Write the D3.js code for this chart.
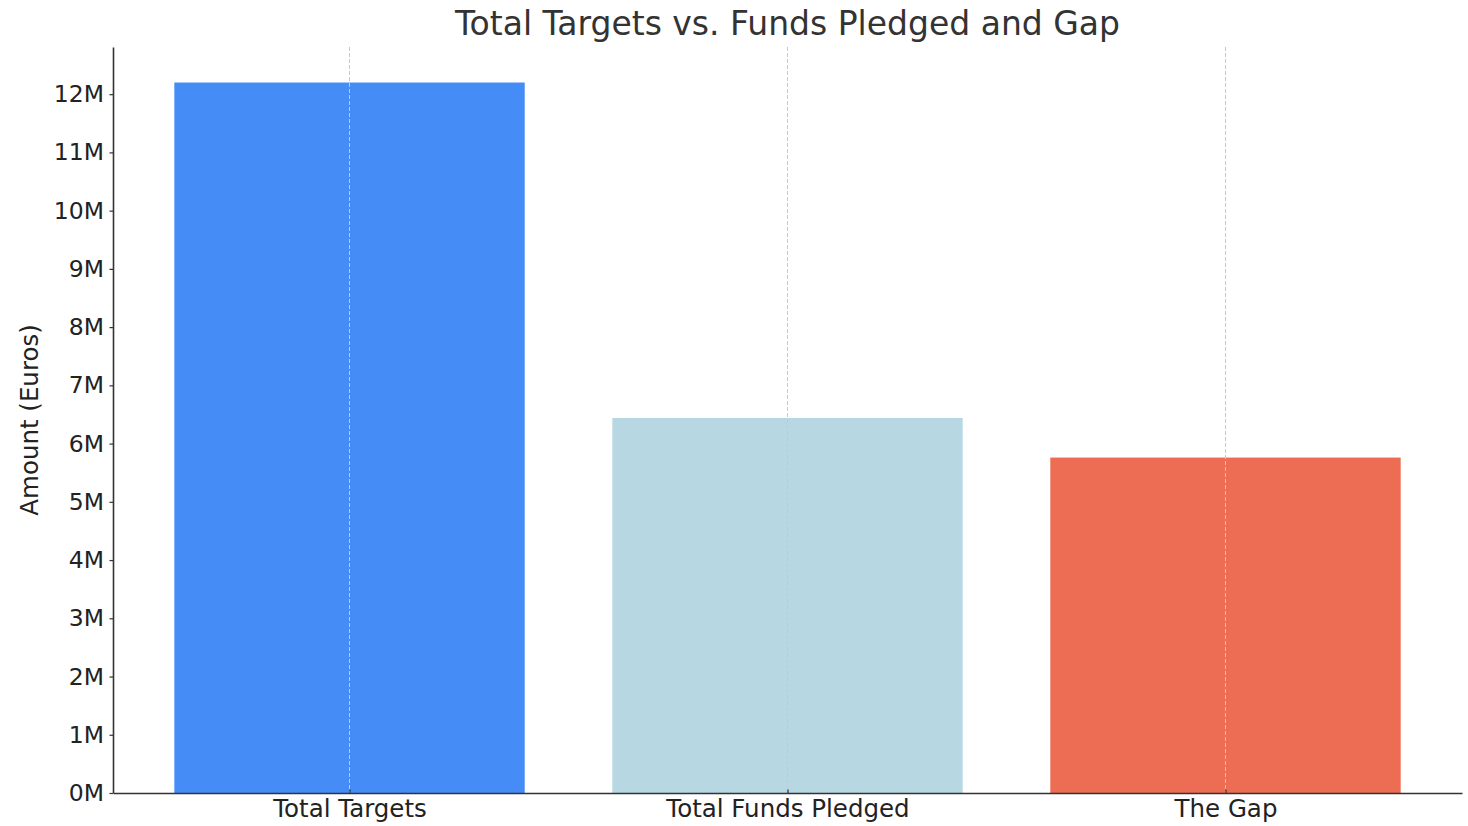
<!DOCTYPE html>
<html>
<head>
<meta charset="utf-8">
<script src="https://cdn.jsdelivr.net/npm/d3@7"></script>
<style>
  body { margin: 0; background: #fff; }
  svg { display: block; }
  svg text { font-family: "DejaVu Sans", sans-serif; }
</style>
</head>
<body>
<div id="chart"></div>
<script>
// データ
const categories = ['Total Targets', 'Total Funds Pledged', 'The Gap'];
const amounts = [12200000, 6440000, 5760000];
const barColors = ['#458cf6', '#b7d8e3', '#ec6d54'];
const yTickValues = [0, 1, 2, 3, 4, 5, 6, 7, 8, 9, 10, 11, 12].map(d => d * 1e6);

const W = 1468, H = 826;
const margin = { top: 47, right: 6, bottom: 33, left: 113 };
const width = W - margin.left - margin.right;
const height = H - margin.top - margin.bottom;

const svg = d3.select('#chart').append('svg')
    .attr('width', W)
    .attr('height', H);

const g = svg.append('g')
    .attr('transform', `translate(${margin.left},${margin.top})`);

// スケール (matplotlib 風の余白)
const xScale = d3.scaleLinear()
    .domain([-0.54, categories.length - 1 + 0.54])
    .range([0, width]);

const yScale = d3.scaleLinear()
    .domain([0, d3.max(amounts) * 1.05])
    .range([height, 0]);

const barW = xScale(0.4) - xScale(-0.4);

// バー
g.selectAll('.bar')
    .data(categories)
    .enter()
    .append('rect')
    .attr('class', 'bar')
    .attr('x', (d, i) => xScale(i) - barW / 2)
    .attr('y', (d, i) => yScale(amounts[i]))
    .attr('width', barW)
    .attr('height', (d, i) => height - yScale(amounts[i]))
    .attr('fill', (d, i) => barColors[i]);

// 縦のグリッド線
g.selectAll('.grid-x')
    .data(categories)
    .enter()
    .append('line')
    .attr('class', 'grid-x')
    .attr('x1', (d, i) => xScale(i))
    .attr('x2', (d, i) => xScale(i))
    .attr('y1', 0)
    .attr('y2', height)
    .attr('stroke', '#c8c8c8')
    .attr('stroke-width', 1)
    .attr('stroke-dasharray', '4,2');

// 軸
const xAxis = d3.axisBottom(xScale)
    .tickValues(categories.map((d, i) => i))
    .tickFormat(i => categories[i])
    .tickSize(-3.5)
    .tickSizeOuter(0);

const yAxis = d3.axisLeft(yScale)
    .tickValues(yTickValues)
    .tickFormat(d => `${d / 1e6}M`)
    .tickSize(3.5)
    .tickSizeOuter(0);

const xg = g.append('g')
    .attr('transform', `translate(0,${height})`)
    .call(xAxis)
    .attr('font-family', null)
    .attr('font-size', null);
xg.select('.domain').attr('stroke', '#333').attr('stroke-width', 1.6);
xg.selectAll('.tick line').attr('stroke', '#333').attr('stroke-width', 1.2);
xg.selectAll('.tick text')
    .attr('y', 7)
    .attr('fill', '#222')
    .style('font-size', '24.5px');

const yg = g.append('g')
    .call(yAxis)
    .attr('font-family', null)
    .attr('font-size', null);
yg.select('.domain').attr('stroke', '#333').attr('stroke-width', 1.6);
yg.selectAll('.tick line').attr('stroke', '#333').attr('stroke-width', 1.2);
yg.selectAll('.tick text')
    .attr('x', -9)
    .attr('fill', '#222')
    .style('font-size', '23.5px');

// 軸ラベル
svg.append('text')
    .attr('transform', `translate(38,${margin.top + height / 2}) rotate(-90)`)
    .attr('text-anchor', 'middle')
    .attr('fill', '#222')
    .style('font-size', '24.5px')
    .text('Amount (Euros)');

// タイトル
svg.append('text')
    .attr('x', margin.left + width / 2)
    .attr('y', 35)
    .attr('text-anchor', 'middle')
    .attr('fill', '#333')
    .style('font-size', '33px')
    .text('Total Targets vs. Funds Pledged and Gap');
</script>
</body>
</html>
